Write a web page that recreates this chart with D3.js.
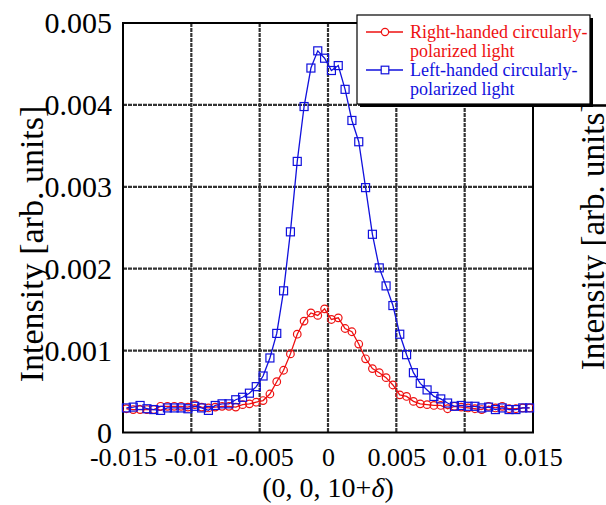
<!DOCTYPE html>
<html>
<head>
<meta charset="utf-8">
<script src="https://cdn.jsdelivr.net/npm/d3@7"></script>
<style>
  body { margin: 0; background: #fff; }
  text { font-family: "Liberation Serif", "Times New Roman", serif; }
</style>
</head>
<body>
<div id="chart"></div>
<script>
// delta positions (0, 0, 10+delta)
var deltas = [-0.01475, -0.01425, -0.01375, -0.01325, -0.01275, -0.01225, -0.01175, -0.01125, -0.01075, -0.01025,
  -0.00975, -0.00925, -0.00875, -0.00825, -0.00775, -0.00725, -0.00675, -0.00625, -0.00575, -0.00525,
  -0.00475, -0.00425, -0.00375, -0.00325, -0.00275, -0.00225, -0.00175, -0.00125, -0.00075, -0.00025,
  0.00025, 0.00075, 0.00125, 0.00175, 0.00225, 0.00275, 0.00325, 0.00375, 0.00425, 0.00475,
  0.00525, 0.00575, 0.00625, 0.00675, 0.00725, 0.00775, 0.00825, 0.00875, 0.00925, 0.00975,
  0.01025, 0.01075, 0.01125, 0.01175, 0.01225, 0.01275, 0.01325, 0.01375, 0.01425, 0.01475];

var rightHanded = [0.00029, 0.00028, 0.00028, 0.00028, 0.00028, 0.00032, 0.00032, 0.00032, 0.00032, 0.00031,
  0.00034, 0.00031, 0.00030, 0.00031, 0.00032, 0.00032, 0.00031, 0.00034, 0.00035, 0.00037,
  0.00039, 0.00047, 0.00062, 0.00076, 0.00096, 0.00120, 0.00136, 0.00146, 0.00143, 0.00151,
  0.00138, 0.00140, 0.00127, 0.00123, 0.00108, 0.00090, 0.00078, 0.00073, 0.00067, 0.00058,
  0.00046, 0.00044, 0.00038, 0.00035, 0.00034, 0.00033, 0.00033, 0.00029, 0.00032, 0.00031,
  0.00030, 0.00029, 0.00028, 0.00032, 0.00030, 0.00032, 0.00029, 0.00029, 0.00030, 0.00030];

var leftHanded = [0.00030, 0.00031, 0.00033, 0.00029, 0.00028, 0.00027, 0.00030, 0.00030, 0.00030, 0.00029,
  0.00032, 0.00030, 0.00027, 0.00033, 0.00035, 0.00035, 0.00040, 0.00043, 0.00048, 0.00056,
  0.00069, 0.00091, 0.00121, 0.00173, 0.00245, 0.00331, 0.00398, 0.00445, 0.00466, 0.00457,
  0.00442, 0.00448, 0.00419, 0.00381, 0.00355, 0.00299, 0.00242, 0.00201, 0.00179, 0.00155,
  0.00120, 0.00095, 0.00073, 0.00060, 0.00052, 0.00044, 0.00041, 0.00036, 0.00032, 0.00033,
  0.00032, 0.00032, 0.00030, 0.00031, 0.00028, 0.00030, 0.00028, 0.00028, 0.00030, 0.00030];

var xTicks = [-0.015, -0.01, -0.005, 0, 0.005, 0.01, 0.015];
var xTickLabels = ["-0.015", "-0.01", "-0.005", "0", "0.005", "0.01", "0.015"];
var yTicks = [0, 0.001, 0.002, 0.003, 0.004, 0.005];
var yTickLabels = ["0", "0.001", "0.002", "0.003", "0.004", "0.005"];
var seriesNames = ["Right-handed circularly-|polarized light", "Left-handed circularly-|polarized light"];
var seriesColors = ["#ee1111", "#1111dd"];

var W = 606, H = 505;
var margin = {top: 23, right: 73, bottom: 72.5, left: 123};
var width = W - margin.left - margin.right,
    height = H - margin.top - margin.bottom;

var root = d3.select("#chart").append("svg")
    .attr("width", W)
    .attr("height", H);
root.append("rect").attr("width", W).attr("height", H).attr("fill", "#fff");

var svg = root.append("g")
    .attr("transform", "translate(" + margin.left + "," + margin.top + ")");

var x = d3.scaleLinear().domain([-0.015, 0.015]).range([0, width]);
var y = d3.scaleLinear().domain([0, 0.005]).range([height, 0]);

// grid
svg.append("g")
  .selectAll("line.gx")
  .data(xTicks.slice(1, -1))
  .enter().append("line")
    .attr("x1", function(d) { return x(d); })
    .attr("x2", function(d) { return x(d); })
    .attr("y1", 0).attr("y2", height)
    .attr("stroke", "#333")
    .attr("stroke-width", 2.2)
    .attr("stroke-dasharray", "4,1");
svg.append("g")
  .selectAll("line.gy")
  .data(yTicks.slice(1, -1))
  .enter().append("line")
    .attr("y1", function(d) { return y(d); })
    .attr("y2", function(d) { return y(d); })
    .attr("x1", 0).attr("x2", width)
    .attr("stroke", "#333")
    .attr("stroke-width", 2.2)
    .attr("stroke-dasharray", "4,1");

// axes
var xAxis = svg.append("g")
    .attr("transform", "translate(0," + height + ")")
    .call(d3.axisBottom(x).tickValues(xTicks)
      .tickFormat(function(d, i) { return xTickLabels[i]; })
      .tickSize(0).tickPadding(12));
var yAxis = svg.append("g")
    .call(d3.axisLeft(y).tickValues(yTicks)
      .tickFormat(function(d, i) { return yTickLabels[i]; })
      .tickSize(0).tickPadding(11));
[xAxis, yAxis].forEach(function(a) {
  a.select(".domain").remove();
  a.selectAll("text")
    .attr("fill", "#000")
    .style("font-family", "'Liberation Serif', 'Times New Roman', serif");
});
xAxis.selectAll("text").attr("dy", "0.82em").style("font-size", "26px");
yAxis.selectAll("text").attr("dy", "0.32em").style("font-size", "30px");

// frame
svg.append("rect")
    .attr("width", width).attr("height", height)
    .attr("fill", "none").attr("stroke", "#000").attr("stroke-width", 2);

// lines and markers
var line = d3.line()
    .x(function(d, i) { return x(deltas[i]); })
    .y(function(d) { return y(d); });

[rightHanded, leftHanded].forEach(function(series, k) {
  svg.append("path")
    .datum(series)
    .attr("fill", "none")
    .attr("stroke", seriesColors[k])
    .attr("stroke-width", 1.3)
    .attr("d", line);
});

svg.selectAll("circle.r")
  .data(rightHanded)
  .enter().append("circle")
    .attr("cx", function(d, i) { return x(deltas[i]); })
    .attr("cy", function(d) { return y(d); })
    .attr("r", 3.8)
    .attr("fill", "none")
    .attr("stroke", seriesColors[0])
    .attr("stroke-width", 1.2);

svg.selectAll("rect.l")
  .data(leftHanded)
  .enter().append("rect")
    .attr("x", function(d, i) { return x(deltas[i]) - 4; })
    .attr("y", function(d) { return y(d) - 4; })
    .attr("width", 8).attr("height", 8)
    .attr("fill", "none")
    .attr("stroke", seriesColors[1])
    .attr("stroke-width", 1.2);

// axis titles
root.append("text")
    .attr("transform", "translate(43,244) rotate(-90)")
    .attr("text-anchor", "middle")
    .style("font-size", "34px")
    .text("Intensity [arb. units]");
root.append("text")
    .attr("transform", "translate(604,236) rotate(-90)")
    .attr("text-anchor", "middle")
    .style("font-size", "33px")
    .text("Intensity [arb. units]");

var xt = root.append("text")
    .attr("x", margin.left + x(0))
    .attr("y", 497)
    .attr("text-anchor", "middle")
    .style("font-size", "28px");
xt.append("tspan").text("(0, 0, 10+");
xt.append("tspan").style("font-style", "italic").text("\u03b4");
xt.append("tspan").text(")");

// legend
var lg = root.append("g").attr("transform", "translate(357,15)");
lg.append("rect").attr("x", 3).attr("y", 3).attr("width", 233).attr("height", 89).attr("fill", "#000");
lg.append("rect").attr("width", 233).attr("height", 89)
    .attr("fill", "#fff").attr("stroke", "#000").attr("stroke-width", 1.2);

seriesNames.forEach(function(name, k) {
  var gy = 17 + k * 38;
  lg.append("line")
    .attr("x1", 9).attr("x2", 46).attr("y1", gy).attr("y2", gy)
    .attr("stroke", seriesColors[k]).attr("stroke-width", 1.3);
  if (k === 0) {
    lg.append("circle").attr("cx", 28).attr("cy", gy).attr("r", 3.6)
      .attr("fill", "#fff").attr("stroke", seriesColors[k]).attr("stroke-width", 1.2);
  } else {
    lg.append("rect").attr("x", 24.2).attr("y", gy - 3.8).attr("width", 7.6).attr("height", 7.6)
      .attr("fill", "#fff").attr("stroke", seriesColors[k]).attr("stroke-width", 1.2);
  }
  var parts = name.split("|");
  parts.forEach(function(p, j) {
    lg.append("text")
      .attr("x", 53).attr("y", gy + 6 + j * 19)
      .attr("fill", seriesColors[k])
      .style("font-size", "18px")
      .text(p);
  });
});
</script>
</body>
</html>
